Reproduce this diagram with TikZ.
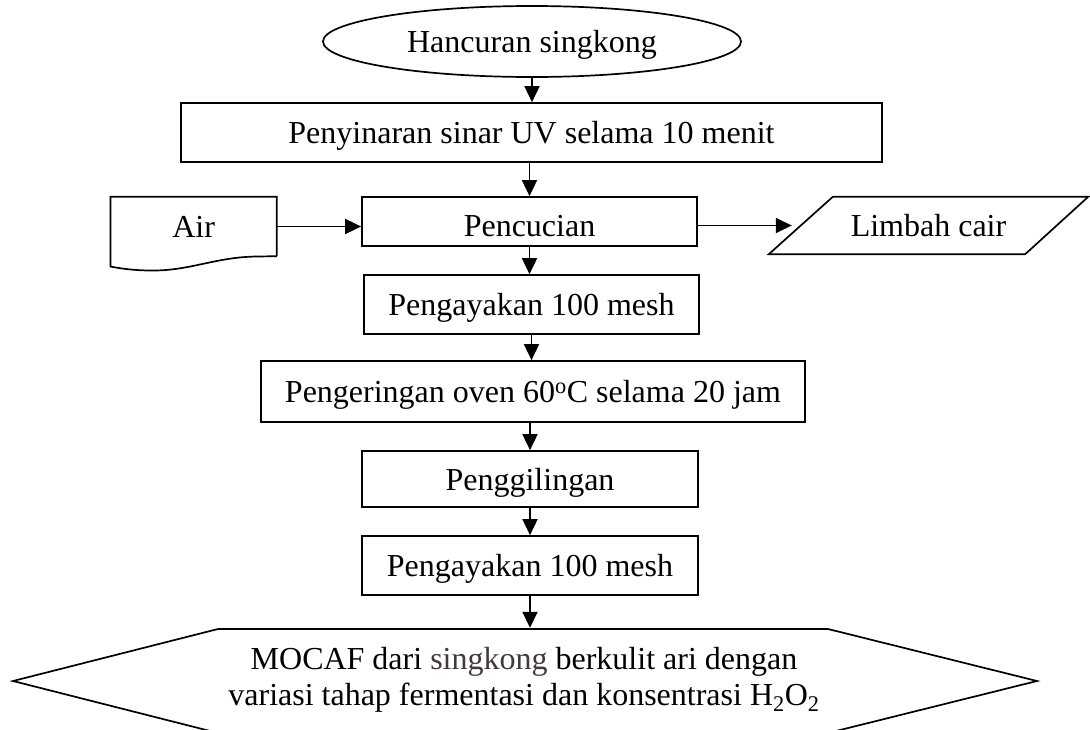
\documentclass[tikz,border=0pt]{standalone}
\usepackage{fontspec}
\setmainfont{Liberation Serif}
\usetikzlibrary{shapes.geometric,arrows.meta,calc}
\definecolor{skdark}{RGB}{66,58,54}
\tikzset{
  line/.style={line width=1.7pt, draw=black},
  box/.style={line, rectangle, inner sep=0pt, align=center, text height=22pt, text depth=0pt},
  flow/.style={line, -{Triangle[length=16pt,width=15pt]}},
}
\begin{document}
\begin{tikzpicture}[x=1pt,y=-1pt,font=\fontsize{32}{36}\selectfont]
\useasboundingbox (0,0) rectangle (1090,729);
% start
\node[line, ellipse, inner sep=0pt, minimum width=418pt, minimum height=71pt, text height=22pt, text depth=0pt] (start) at (532,41.5) {Hancuran singkong};
% process boxes
\node[box, minimum width=701pt, minimum height=59pt] (uv) at (531.5,132.5) {Penyinaran sinar UV selama 10 menit};
\node[box, minimum width=335pt, minimum height=49pt, text height=30pt] (cuci) at (529.5,221.5) {Pencucian};
\node[box, minimum width=335pt, minimum height=59pt] (ayak1) at (531.5,304.5) {Pengayakan 100 mesh};
\node[box, minimum width=544pt, minimum height=61pt] (kering) at (533,391.5) {Pengeringan oven 60\textsuperscript{o}C selama 20 jam};
\node[box, minimum width=336pt, minimum height=56pt] (giling) at (530,479) {Penggilingan};
\node[box, minimum width=336pt, minimum height=59pt] (ayak2) at (530,565.5) {Pengayakan 100 mesh};
% Air (document)
\node[inner sep=0pt, minimum width=166pt, minimum height=59pt, text height=22pt, text depth=0pt] (air) at (193.6,226.5) {Air};
\draw[line, line join=miter] (air.south east) -- (air.north east) -- (air.north west) -- (110.5,266.5)
  .. controls (120,268.5) and (135,270.5) .. (151,270.5)
  .. controls (190,271) and (215,257) .. (257,256.5) -- (air.south east);
% Limbah cair (parallelogram)
\node[inner sep=0pt, minimum width=319pt, minimum height=57pt, text height=22pt, text depth=0pt] (limbah) at (928.5,225.5) {Limbah cair};
\draw[line, line join=miter] (limbah.south west) -- ($(limbah.north west)+(64,0)$) -- (limbah.north east) -- ($(limbah.south east)-(63,0)$) -- cycle;
\coordinate (limbahin) at ($(limbah.west)+(23,0)$);
% final hexagon
\node[inner sep=0pt, minimum height=104pt, align=center, font=\fontsize{32}{35.5}\selectfont] (mocaf) at (524,680)
  {MOCAF dari {\color{skdark}singkong} berkulit ari dengan\\variasi tahap fermentasi dan konsentrasi H\textsubscript{2}O\textsubscript{2}};
\draw[line, line join=miter] (13,681) -- (218,629) -- (828,629) -- (1037,681) -- (828,733) -- (218,733) -- cycle;
% connectors
\draw[flow] (start.south) -- (start.south |- uv.north);
\draw[flow] (uv.south -| cuci.north) -- (cuci.north);
\draw[flow] (air.east) -- (air.east -| cuci.west);
\draw[flow] (cuci.east |- limbahin) -- (limbahin);
\draw[flow] (cuci.south) -- (cuci.south |- ayak1.north);
\draw[flow] (ayak1.south) -- (ayak1.south |- kering.north);
\draw[flow] (kering.south -| giling.north) -- (giling.north);
\draw[flow] (giling.south) -- (ayak2.north);
\draw[flow] (ayak2.south) -- (ayak2.south |- mocaf.north);
\end{tikzpicture}
\end{document}
